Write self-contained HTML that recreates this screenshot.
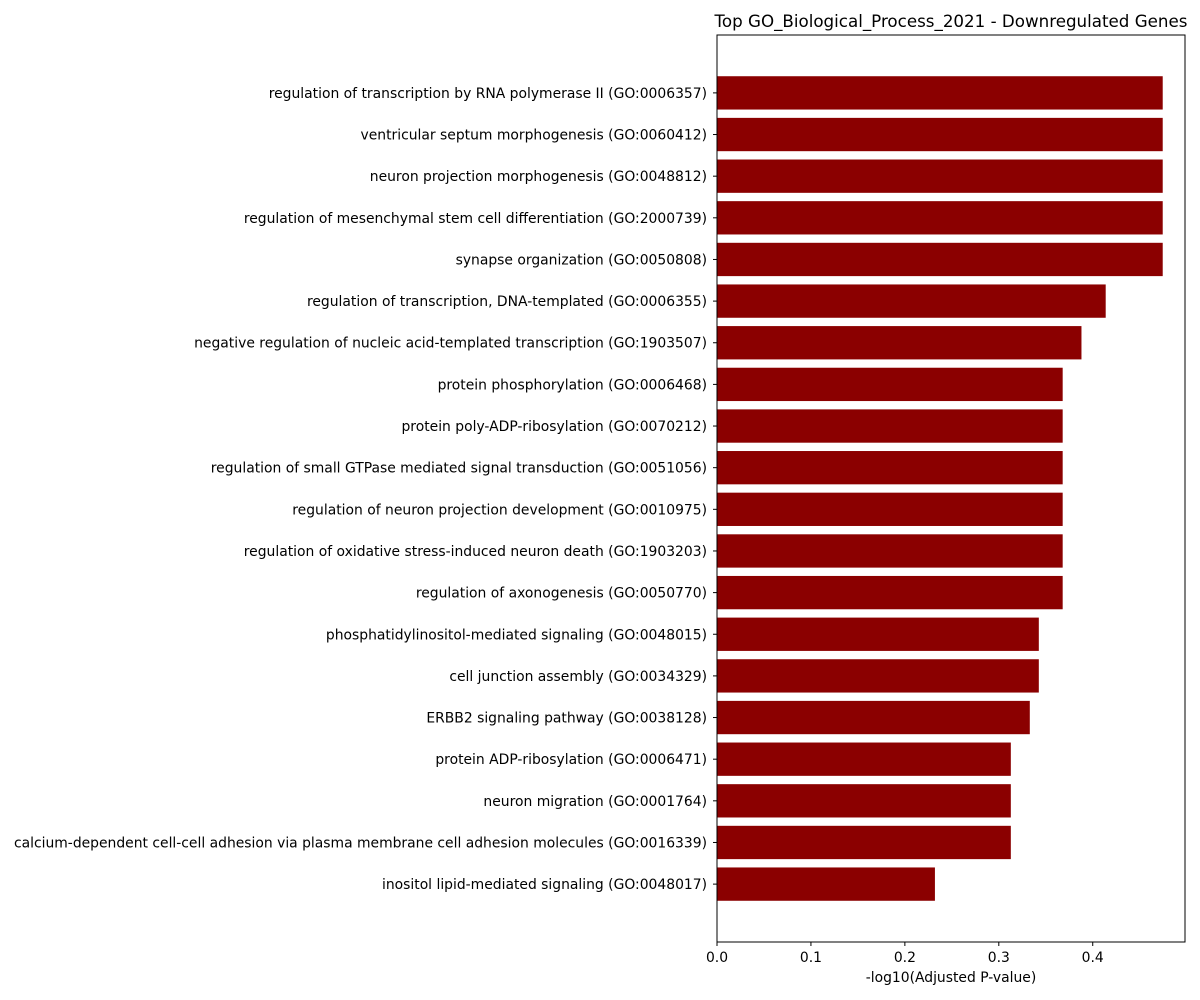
<!DOCTYPE html>
<html><head><meta charset="utf-8"><style>
body{margin:0;background:#fff;font-family:"DejaVu Sans","Liberation Sans",sans-serif;}
</style></head><body>
<svg id="chart" width="1200" height="1000" xmlns="http://www.w3.org/2000/svg" style="display:block;font-family:'DejaVu Sans','Liberation Sans',sans-serif"></svg>
<script>
const categories=["regulation of transcription by RNA polymerase II (GO:0006357)","ventricular septum morphogenesis (GO:0060412)","neuron projection morphogenesis (GO:0048812)","regulation of mesenchymal stem cell differentiation (GO:2000739)","synapse organization (GO:0050808)","regulation of transcription, DNA-templated (GO:0006355)","negative regulation of nucleic acid-templated transcription (GO:1903507)","protein phosphorylation (GO:0006468)","protein poly-ADP-ribosylation (GO:0070212)","regulation of small GTPase mediated signal transduction (GO:0051056)","regulation of neuron projection development (GO:0010975)","regulation of oxidative stress-induced neuron death (GO:1903203)","regulation of axonogenesis (GO:0050770)","phosphatidylinositol-mediated signaling (GO:0048015)","cell junction assembly (GO:0034329)","ERBB2 signaling pathway (GO:0038128)","protein ADP-ribosylation (GO:0006471)","neuron migration (GO:0001764)","calcium-dependent cell-cell adhesion via plasma membrane cell adhesion molecules (GO:0016339)","inositol lipid-mediated signaling (GO:0048017)"];
const values=[0.4745,0.4745,0.4745,0.4745,0.4745,0.4138,0.388,0.368,0.368,0.368,0.368,0.368,0.368,0.3426,0.3426,0.333,0.3128,0.3128,0.3128,0.232];
const xTicks=[0,0.1,0.2,0.3,0.4];
const xTickLabels=["0.0","0.1","0.2","0.3","0.4"];
const NS="http://www.w3.org/2000/svg";
const svg=document.getElementById('chart');
const L=717,R=1185,T=35,B=942;
const xmax=Math.max(...values)*1.05;
const x=v=>L+v/xmax*(R-L);
const n=categories.length;
const span=n-1+0.8, lo=-0.4-0.05*span, hi=n-1+0.4+0.05*span;
const y=i=>T+(i-lo)/(hi-lo)*(B-T);
const bh=0.8*(B-T)/(hi-lo);
function mk(tag,attrs,text){const e=document.createElementNS(NS,tag);for(const k in attrs)e.setAttribute(k,attrs[k]);if(text!==undefined)e.textContent=text;svg.appendChild(e);return e;}
categories.forEach((c,i)=>{
  const r=mk('rect',{x:L,y:y(i)-bh/2,width:x(values[i])-L,height:bh,fill:'#8b0000'});
  
  
  const tk=mk('line',{x1:L-4,x2:L,y1:y(i),y2:y(i),stroke:'#000'});
  
  
  const t=mk('text',{x:L-10,y:y(i)+5,'text-anchor':'end','font-size':'13.9'},c);
  
  
});
xTicks.forEach((v,i)=>{
  const tk=mk('line',{x1:x(v),x2:x(v),y1:B,y2:B+4,stroke:'#000'});
  
  
  const t=mk('text',{x:x(v),y:B+20,'text-anchor':'middle','font-size':'13.9'},xTickLabels[i]);
  
  
});
const fr=mk('rect',{x:L,y:T,width:R-L,height:B-T,fill:'none',stroke:'#000','stroke-width':1});


const xt=mk('text',{x:(L+R)/2,y:982,'text-anchor':'middle','font-size':'13.9'},'-log10(Adjusted P-value)');


const ti=mk('text',{x:(L+R)/2,y:27,'text-anchor':'middle','font-size':'16.7'},'Top GO_Biological_Process_2021 - Downregulated Genes');


</script>
</body></html>
